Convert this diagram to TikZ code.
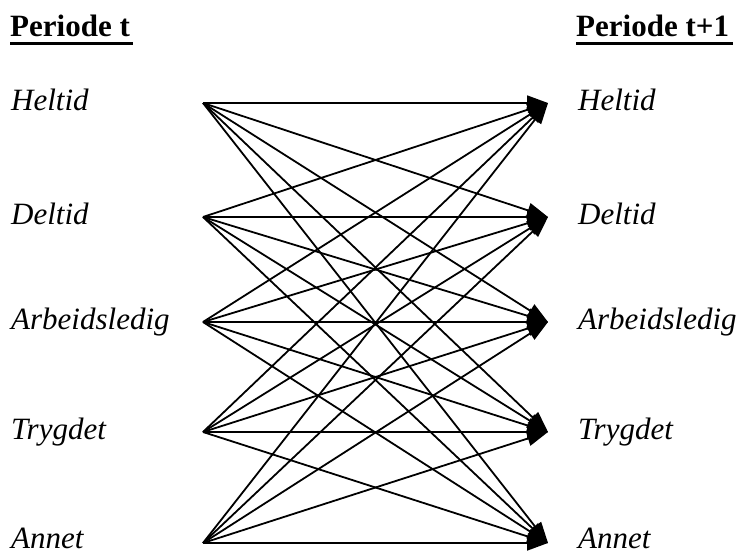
\documentclass[tikz,border=0pt]{standalone}
\usepackage{fontspec}
\setmainfont{Liberation Serif}
\usetikzlibrary{arrows.meta}
\begin{document}
\begin{tikzpicture}[x=1pt,y=-1pt,
  lbl/.style={anchor=base west,inner sep=0pt,font=\fontsize{31}{36}\selectfont\itshape},
  hdr/.style={anchor=base west,inner sep=0pt,font=\fontsize{31}{36}\selectfont\bfseries},
  conn/.style={line width=1.8pt,-{Triangle[length=21pt,width=15pt]}}]
\useasboundingbox (0,0) rectangle (741,554);
\node[hdr] (h1) at (10,36) {Periode t};
\node[hdr] (h2) at (576,36) {Periode t+1};
\draw[line width=3pt] (h1.base west)++(0,7) -- ++(123,0);
\draw[line width=3pt] (h2.base west)++(0,7) -- ++(157,0);
\foreach \i/\y/\b/\t in {1/103/110/Heltid,2/217/224/Deltid,3/322/329/Arbeidsledig,4/432/439/Trygdet,5/543/548/Annet}{
  \coordinate (L\i) at (203,\y);
  \coordinate (R\i) at (548,\y);
  \node[lbl] (tl\i) at (11,\b) {\t};
  \node[lbl] (tr\i) at (578,\b) {\t};
}
\foreach \i in {1,...,5}{
  \foreach \j in {1,...,5}{
    \draw[conn] (L\i) -- (R\j);
  }
}
\end{tikzpicture}
\end{document}
